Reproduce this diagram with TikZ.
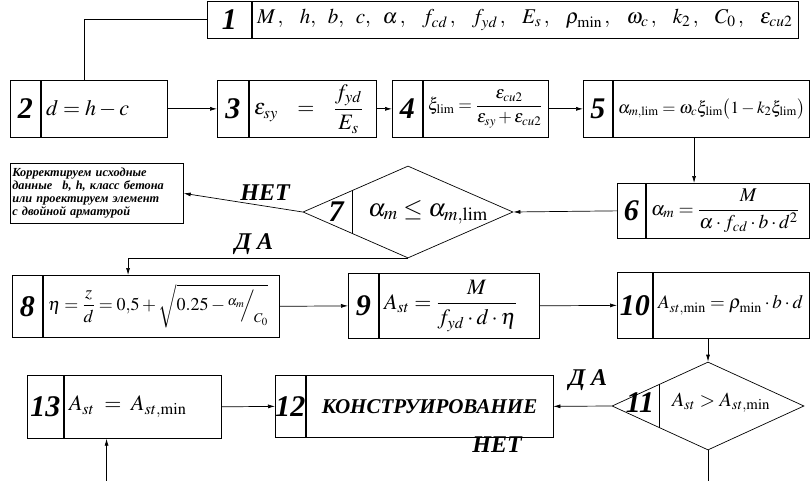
\documentclass[tikz,border=0pt]{standalone}
\usepackage{amsmath}
\usepackage{mathptmx}
\usepackage{fontspec}
\setmainfont{Liberation Serif}
\usetikzlibrary{arrows.meta, positioning, calc, shapes.geometric}

\begin{document}
\begin{tikzpicture}[
    x=1pt, y=-1pt,
    line width=0.7pt,
    arr/.style={-{Latex[length=7pt, width=4pt]}},
    numcell/.style={
        draw, rectangle, inner sep=0pt, anchor=north west,
        font=\fontsize{30}{30}\selectfont\bfseries\itshape,
    },
    numlabel/.style={
        inner sep=0pt, font=\fontsize{30}{30}\selectfont\bfseries\itshape,
    },
    formcell/.style={
        draw, rectangle, inner xsep=5pt, inner ysep=0pt, align=left,
        font=\fontsize{20}{22}\selectfont,
    },
    decision/.style={draw, diamond, inner sep=0pt},
    answer/.style={font=\fontsize{24}{24}\selectfont\bfseries\itshape},
]
\useasboundingbox (0,0) rectangle (810,481);

% -- Box 1: input data --
\node[numcell, minimum width=44pt, minimum height=37pt] (n1) at (207,1) {1};
\node[formcell, minimum height=37pt, text width=536pt, right=0pt of n1,
      font=\fontsize{21}{22}\selectfont] (b1)
    {$M\,,\;\;\;h,\;\;b,\;\;c,\;\;\alpha\,,\;\;\;f_{cd}\,,\;\;\;f_{yd}\,,\;\;\;E_s\,,\;\;\;\rho_{\min}\,,\;\;\;\omega_c\,,\;\;\;k_2\,,\;\;\;C_0\,,\;\;\;\varepsilon_{cu2}$};

% -- Row 2 --
\node[numcell, minimum width=30pt, minimum height=57pt] (n2) at (10,80) {2};
\node[formcell, minimum height=57pt, text width=116pt, right=0pt of n2,
      font=\fontsize{22}{24}\selectfont] (b2)
    {$d=h-c$};

\node[numcell, minimum width=31pt, minimum height=57pt] (n3) at (217,80) {3};
\node[formcell, minimum height=57pt, text width=117pt, right=0pt of n3,
      font=\fontsize{22}{24}\selectfont] (b3)
    {$\varepsilon_{sy}\;\;\;=\;\;\;\dfrac{f_{yd}}{E_s}$};

\node[numcell, minimum width=30pt, minimum height=57pt] (n4) at (392,80) {4};
\node[formcell, minimum height=57pt, text width=115pt, right=0pt of n4,
      font=\fontsize{17.5}{20}\selectfont] (b4)
    {$\xi_{\lim}=\dfrac{\varepsilon_{cu2}}{\varepsilon_{sy}+\varepsilon_{cu2}}$};

\node[numcell, minimum width=29pt, minimum height=57pt] (n5) at (583,80) {5};
\node[formcell, minimum height=57pt, text width=186pt, right=0pt of n5,
      font=\fontsize{17}{20}\selectfont] (b5)
    {\mbox{$\alpha_{m,\lim}=\omega_c\xi_{\lim}\bigl(1-k_2\xi_{\lim}\bigr)$}};

% -- Row 3 --
\node[numcell, minimum width=28pt, minimum height=55pt] (n6) at (617,183) {6};
\node[formcell, minimum height=55pt, text width=153pt, right=0pt of n6,
      font=\fontsize{19.5}{22}\selectfont] (b6)
    {$\alpha_m=\dfrac{M}{\alpha\cdot f_{cd}\cdot b\cdot d^2}$};

\node[decision, minimum width=210pt, minimum height=92pt] (d7) at (408,212) {};
\node[numlabel] (n7) at (336,212) {7};
\node[font=\fontsize{25}{25}\selectfont] (f7) at (428,212)
    {$\alpha_m\le\alpha_{m,\lim}$};

\node[draw, rectangle, anchor=north west, minimum width=173pt, minimum height=60pt,
      text width=169pt, inner sep=2pt, align=left,
      font=\fontsize{12.3}{13}\selectfont\bfseries\itshape] (corr) at (10,163)
    {Корректируем исходные\\данные \enspace b, h, класс бетона\\или проектируем элемент\\с двойной арматурой};

% -- Row 4 --
\node[numcell, minimum width=30pt, minimum height=62pt] (n8) at (12,275) {8};
\node[formcell, minimum height=62pt, text width=226pt, right=0pt of n8,
      font=\fontsize{18}{20}\selectfont] (b8)
    {$\eta=\dfrac{z}{d}=0{,}5+\sqrt{0.25-{}^{\alpha_m}\!\!\Big/_{\!C_0}}$};

\node[numcell, minimum width=30pt, minimum height=65pt] (n9) at (348,273) {9};
\node[formcell, minimum height=65pt, text width=150pt, right=0pt of n9,
      font=\fontsize{22}{24}\selectfont] (b9)
    {$A_{st}=\dfrac{M}{f_{yd}\cdot d\cdot\eta}$};

\node[numcell, minimum width=35pt, minimum height=66pt] (n10) at (617,272) {10};
\node[formcell, minimum height=66pt, text width=146pt, right=0pt of n10,
      font=\fontsize{19}{22}\selectfont] (b10)
    {$A_{st,\min}=\rho_{\min}\cdot b\cdot d$};

% -- Row 5 --
\node[decision, minimum width=192pt, minimum height=88pt] (d11) at (708,406) {};
\node[numlabel] (n11) at (640,403) {11};
\node[font=\fontsize{20}{20}\selectfont] (f11) at (721,403)
    {$A_{st}>A_{st,\min}$};

\node[numcell, minimum width=30pt, minimum height=62pt] (n12) at (275,375) {12};
\node[formcell, minimum height=62pt, text width=237pt, right=0pt of n12, align=center,
      font=\fontsize{21}{22}\selectfont\bfseries\itshape] (b12)
    {КОНСТРУИРОВАНИЕ};

\node[numcell, minimum width=36pt, minimum height=63pt] (n13) at (27,375) {13};
\node[formcell, minimum height=63pt, text width=147pt, right=0pt of n13,
      font=\fontsize{22}{24}\selectfont] (b13)
    {$A_{st}\;=\;A_{st,\min}$};

% -- dividers inside the diamonds --
\draw ($(d7.west)!0.476!(d7.north)$) -- ($(d7.west)!0.476!(d7.south)$);
\draw ($(d11.west)!0.5!(d11.north)$) -- ($(d11.west)!0.5!(d11.south)$);

% -- connectors --
\draw (n1.west) -| ($(n2.north west)!0.47!(b2.north east)$);
\draw[arr] (b2.east) -- (n3.west);
\draw[arr] (b3.east) -- (n4.west);
\draw[arr] (b4.east) -- (n5.west);
\draw[arr] ([xshift=-17pt]b5.south) -- ([xshift=-17pt]b5.south |- b6.north);
\draw[arr] (n6.west) -- (d7.east);
\draw[arr] (d7.west) -- (corr.east);
\draw[arr] (d7.south) -| ([xshift=-33pt]b8.north);
\draw[arr] (b8.east) -- (n9.west);
\draw[arr] (b9.east) -- (n10.west);
\draw[arr] (b10.south -| d11.north) -- (d11.north);
\draw[arr] (d11.west) -- (b12.east);
\draw[arr] (b13.east) -- (n12.west);
\draw[arr] (d11.south) -- ++(0,60) -| ([xshift=-36pt]b13.south);

% -- branch labels --
\node[answer] (no7) at (265,193) {НЕТ};
\node[answer] (yes7) at (254,244) {Д А};
\node[answer] (yes11) at (588,380) {Д А};
\node[answer] (no11) at (497,445) {НЕТ};

\end{tikzpicture}
\end{document}
